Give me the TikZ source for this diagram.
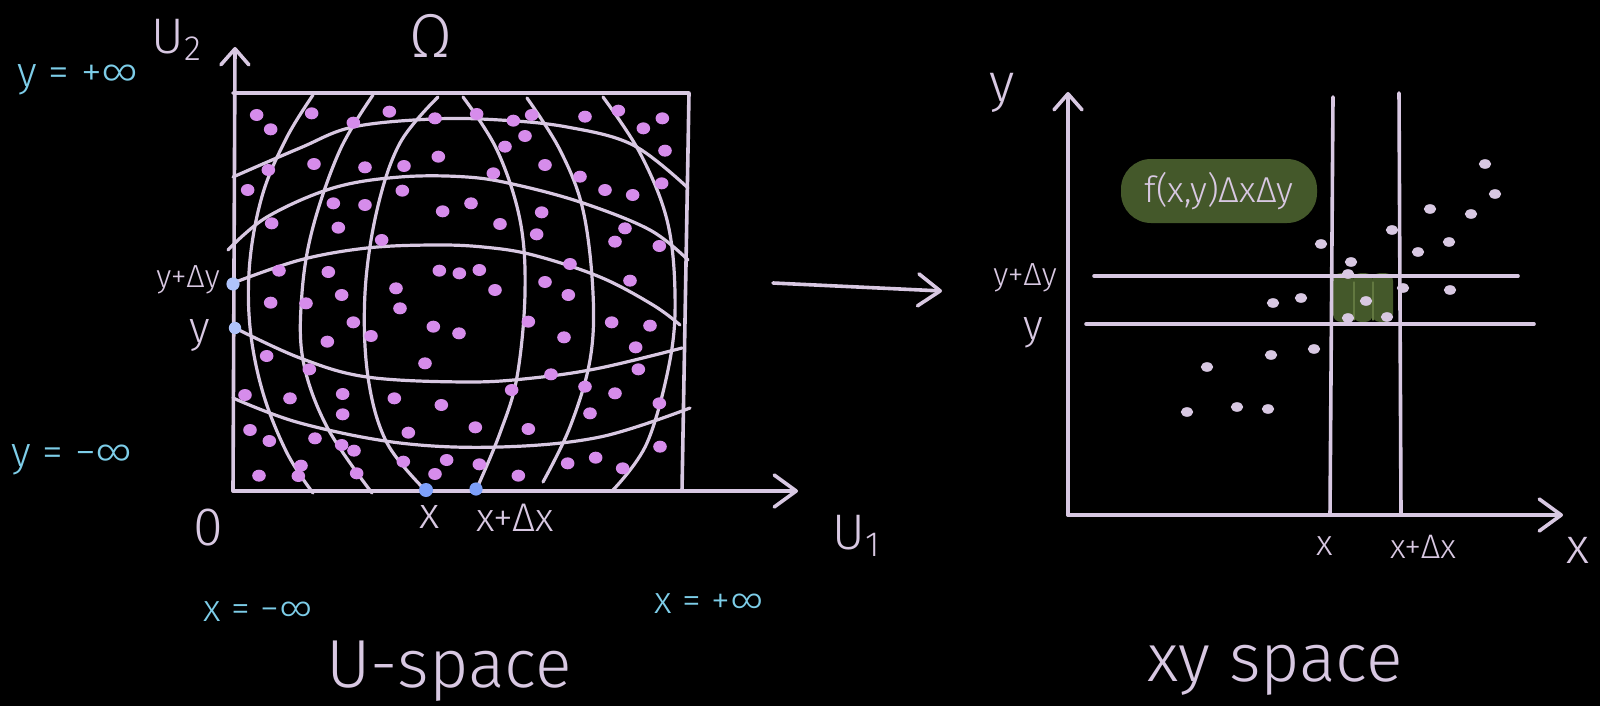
\documentclass[tikz,border=0pt]{standalone}
\usepackage{fontspec}
\setmainfont{Fira Sans}[UprightFont={* Light}]
\usetikzlibrary{arrows.meta}
\definecolor{lav}{RGB}{216,200,226}
\definecolor{vio}{RGB}{214,140,235}
\definecolor{bdot}{RGB}{125,160,250}
\definecolor{bdotl}{RGB}{175,195,250}
\definecolor{cyantxt}{RGB}{125,205,232}
\definecolor{grn}{RGB}{68,88,42}
\definecolor{grnl}{RGB}{98,120,64}
\newcommand{\myfs}[1]{\fontsize{#1}{#1}\selectfont}
\begin{document}
\begin{tikzpicture}[x=0.5pt,y=-0.5pt,line cap=round,line join=round,
  ln/.style={draw=lav,line width=1.8pt},
  crv/.style={draw=lav,line width=1.6pt},
  txt/.style={text=lav,inner sep=0pt},
  cy/.style={text=cyantxt,inner sep=0pt},
  uptip/.style={-{Straight Barb[length=8pt,width=14pt,round]}},
  rttip/.style={-{Straight Barb[length=11pt,width=16pt,round]}}]
\fill[black] (0,0) rectangle (1600,706);
\useasboundingbox (0,0) rectangle (1600,706);

% ---------- left panel ----------
\coordinate (o1) at (233,491);
\coordinate (u2top) at (235,47);
\coordinate (u1end) at (798,491);
\draw[ln] (233,93) -- (689,93) -- (682,491);
% horizontal-ish curves
\draw[crv] plot[smooth,tension=0.6] coordinates {(233,177) (300,148) (353,127) (433,119) (500,120) (567,127) (633,145) (688,188)};
\draw[crv] plot[smooth,tension=0.6] coordinates {(228,250) (267,217) (333,188) (400,177) (467,177) (517,185) (583,203) (650,230) (688,260)};
\draw[crv] plot[smooth,tension=0.6] coordinates {(233,283) (300,260) (367,248) (433,245) (483,247) (533,255) (600,277) (653,305) (680,325)};
\draw[crv] plot[smooth,tension=0.6] coordinates {(235,328) (300,358) (367,377) (467,382) (533,378) (600,368) (682,348)};
\draw[crv] plot[smooth,tension=0.6] coordinates {(233,398) (300,423) (400,443) (500,447) (600,437) (690,408)};
% vertical barrel curves
\draw[crv] plot[smooth,tension=0.6] coordinates {(313,95) (287,137) (263,193) (250,260) (250,327) (263,393) (287,453) (313,493)};
\draw[crv] plot[smooth,tension=0.6] coordinates {(373,95) (340,150) (313,227) (302,293) (303,360) (327,427) (372,493)};
\draw[crv] plot[smooth,tension=0.6] coordinates {(438,97) (400,143) (377,210) (365,293) (368,377) (387,443) (427,492)};
\draw[crv] plot[smooth,tension=0.6] coordinates {(463,97) (497,150) (520,220) (525,293) (517,377) (500,433) (477,488)};
\draw[crv] plot[smooth,tension=0.6] coordinates {(527,98) (560,150) (583,210) (593,293) (590,360) (570,427) (543,482)};
\draw[crv] plot[smooth,tension=0.6] coordinates {(603,97) (640,153) (667,220) (675,293) (670,360) (647,443) (613,490)};
% axes
\draw[ln,uptip] (o1) -- (u2top);
\draw[ln,rttip] (o1) -- (u1end);
% dots
\foreach \a/\b in {170/165,212/208,335/160,460/188,568/155,705/175,830/162,940/182,995/165,975/228,915/260,1155/170,1255/152,1330/205,1387/175,1395/272,1385/370,715/290,342/312,495/322,612/318,880/340,1035/315,1140/350,1215/390,1298/405,205/330,143/390,400/430,495/435,607/392,728/454,813/430,1025/457,900/492,1010/523,1275/505,1245/545,1378/558,215/490,415/503,545/540,1110/612,1290/662,237/632,385/636,718/632,778/640,838/630,885/690,1035/666,1105/705,588/685,425/705,600/745,212/728,318/730,460/787,513/828,700/800,777/820,985/785,1235/787,1350/797,1307/862,1092/832,382/845,200/888,328/928,675/910,1053/943,1315/928,1155/980,1245/1000,1378/1030,1170/1060,935/990,135/1005,270/1015,428/1002,583/1015,724/1035,428/1063,150/1110,208/1143,345/1135,625/1118,826/1102,985/1107,1380/1160,425/1155,462/1172,303/1217,295/1248,177/1247,470/1240,610/1205,740/1200,705/1242,838/1213,955/1247,1103/1210,1187/1193,1268/1225}
  \fill[vio] ({200+\a/3},{60+\b/3}) ellipse [x radius=3.4pt,y radius=3.0pt];
\fill[bdotl] (233,284) circle [radius=3.3pt];
\fill[bdotl] (235,328) circle [radius=3.1pt];
\fill[bdot] (426,490) circle [radius=3.5pt];
\fill[bdot] (476,489) circle [radius=3.3pt];
% labels
\node[txt,font=\myfs{25}] (U2) at (177,40) {U\textsubscript{2}};
\node[txt,font=\myfs{31}] (Om) at (431,36) {Ω};
\node[cy,font=\myfs{21}] (ypinf) at (78,80) {y = +∞};
\node[cy,font=\myfs{21}] (yminf) at (72,460) {y = −∞};
\node[txt,font=\myfs{27}] (zero) at (208,528) {0};
\node[txt,font=\myfs{25}] (U1) at (857,536) {U\textsubscript{1}};
\node[cy,font=\myfs{19}] (xminf) at (258,612) {x = −∞};
\node[cy,font=\myfs{19}] (xpinf) at (709,604) {x = +∞};
\node[txt,font=\myfs{34}] (us) at (449,671) {U-space};
\node[txt,font=\myfs{16}] (ydy) at (188,280) {y+Δy};
\node[txt,font=\myfs{22}] (yl) at (200,335) {y};
\node[txt,font=\myfs{22}] (xl) at (430,517) {x};
\node[txt,font=\myfs{20}] (xdx) at (515,518) {x+Δx};

% ---------- middle arrow ----------
\coordinate (ma) at (773,283);
\coordinate (mb) at (942,291);
\draw[ln,rttip] (ma) -- (mb);

% ---------- right panel ----------
\fill[grn,rounded corners=4pt] (1333,273) rectangle (1354,322);
\fill[grn,rounded corners=4pt] (1353,273) rectangle (1373,322);
\fill[grn,rounded corners=4pt] (1372,273) rectangle (1393,322);
\draw[grnl,line width=0.6pt] (1354,282) -- (1354,320) (1373,282) -- (1373,320);
\coordinate (o2) at (1068,515);
\coordinate (ytop) at (1068,92);
\coordinate (xend) at (1563,515);
\draw[ln,uptip] (o2) -- (ytop);
\draw[ln,rttip] (o2) -- (xend);
\draw[ln] (1333,97) -- (1330,515);
\draw[ln] (1399,93) -- (1401,515);
\draw[ln] (1094,276) -- (1518,276);
\draw[ln] (1086,324) -- (1534,324);
\foreach \a/\b in {1485/164,1495/194,1430/209,1471/214,1392/230,1449/242,1418/252,1321/244,1351/262,1348/274,1403/288,1450/290,1273/303,1301/298,1366/301,1348/318,1387/317,1271/355,1314/349,1268/409,1207/367,1187/412,1237/407}
  \fill[lav] (\a,\b) ellipse [x radius=3.1pt,y radius=2.4pt];
\node[txt,fill=grn,rounded corners=15pt,minimum width=98pt,minimum height=32pt,font=\myfs{18}] (f) at (1219,191) {f(x,y)ΔxΔy};
\node[txt,font=\myfs{27}] (ylab) at (1002,93) {y};
\node[txt,font=\myfs{16}] (ydy2) at (1025,278) {y+Δy};
\node[txt,font=\myfs{21}] (y2) at (1033,333) {y};
\node[txt,font=\myfs{18}] (x2) at (1325,546) {x};
\node[txt,font=\myfs{17}] (xdx2) at (1423,547) {x+Δx};
\node[txt,font=\myfs{25}] (xlab) at (1578,550) {x};
\node[txt,font=\myfs{34}] (xys) at (1275,670) {xy space};
\end{tikzpicture}
\end{document}
